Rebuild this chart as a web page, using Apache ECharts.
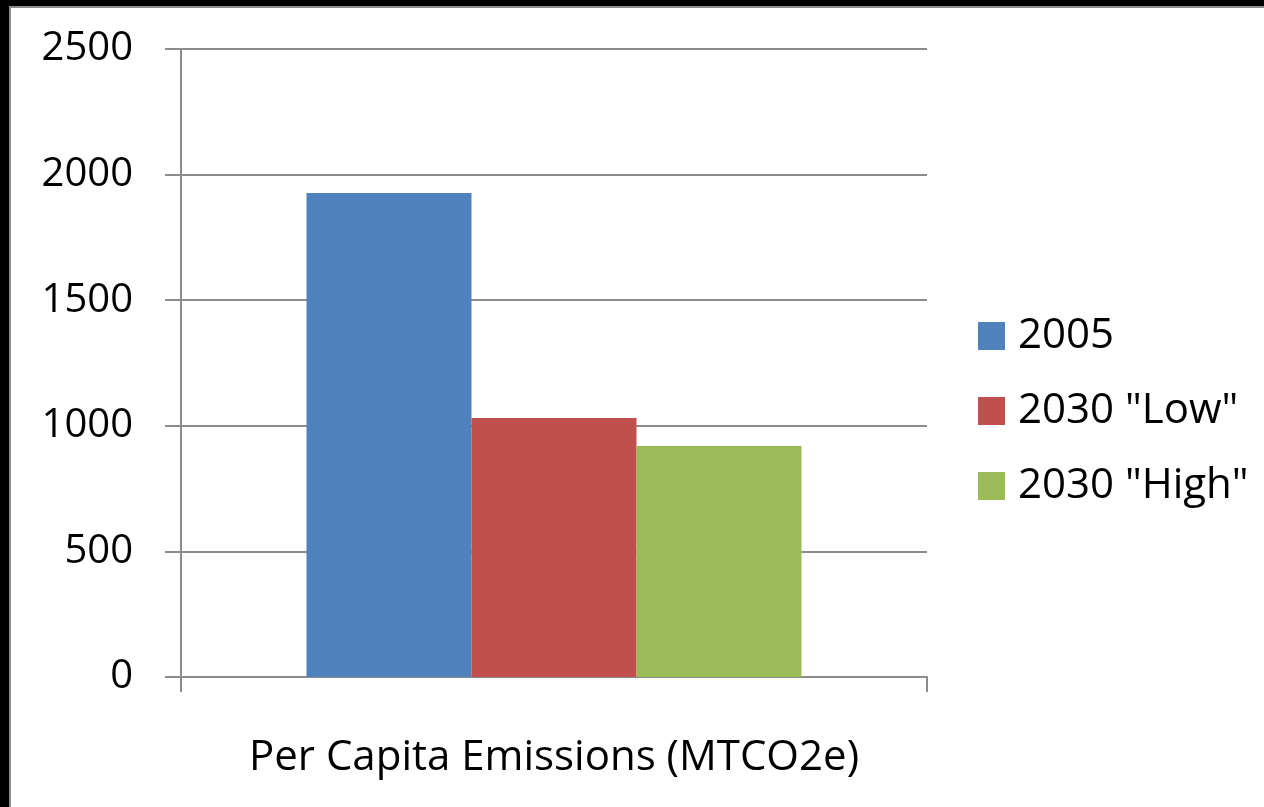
<!DOCTYPE html>
<html>
<head>
<meta charset="utf-8">
<script src="https://cdn.jsdelivr.net/npm/echarts@6/dist/echarts.min.js"></script>
<style>
html,body{margin:0;padding:0;background:#fff;}
#chart{width:1264px;height:807px;}
</style>
</head>
<body>
<div id="chart"></div>
<script>
const categories = ['Per Capita Emissions (MTCO2e)'];
const seriesNames = ['2005', '2030 "Low"', '2030 "High"'];
const values2005 = [1927];
const valuesLow = [1031];
const valuesHigh = [920];
const yTicks = [0, 500, 1000, 1500, 2000, 2500];
const colors = ['#4F81BD', '#C0504D', '#9BBB59'];

const chart = echarts.init(document.getElementById('chart'));
const font = '"Open Sans", Lato, sans-serif';
const allValues = [values2005, valuesLow, valuesHigh];
chart.setOption({
  animation: false,
  backgroundColor: '#fff',
  graphic: [
    {type: 'rect', shape: {x: 0, y: 0, width: 9, height: 807}, style: {fill: '#000'}},
    {type: 'rect', shape: {x: 0, y: 0, width: 1264, height: 6}, style: {fill: '#000'}},
    {type: 'rect', shape: {x: 9, y: 6, width: 2, height: 801}, style: {fill: '#8c8c8c'}},
    {type: 'rect', shape: {x: 9, y: 6, width: 1255, height: 2}, style: {fill: '#8c8c8c'}}
  ],
  grid: {left: 181, right: 337, top: 49, bottom: 130, containLabel: false},
  legend: {
    orient: 'vertical',
    left: 973,
    top: 310,
    itemWidth: 27,
    itemHeight: 28,
    itemGap: 33,
    icon: 'rect',
    textStyle: {fontFamily: font, fontSize: 42, color: '#000', lineHeight: 28, padding: [0, 0, 0, 8]},
    data: seriesNames
  },
  xAxis: {
    type: 'category',
    data: categories,
    axisLine: {lineStyle: {color: '#8c8c8c', width: 2}},
    axisTick: {show: true, length: 15, lineStyle: {color: '#8c8c8c', width: 2}},
    axisLabel: {fontFamily: font, fontSize: 42, color: '#000', margin: 60}
  },
  yAxis: {
    type: 'value',
    min: yTicks[0],
    max: yTicks[yTicks.length - 1],
    interval: yTicks[1] - yTicks[0],
    axisLine: {show: true, lineStyle: {color: '#8c8c8c', width: 2}},
    axisTick: {show: true, length: 16, lineStyle: {color: '#8c8c8c', width: 2}},
    axisLabel: {fontFamily: font, fontSize: 40, color: '#000', margin: 48, formatter: v => String(v)},
    splitLine: {lineStyle: {color: '#8c8c8c', width: 2}}
  },
  series: seriesNames.map((name, i) => ({
    name: name,
    type: 'bar',
    data: allValues[i],
    barWidth: 165,
    barGap: '0%',
    itemStyle: {color: colors[i]}
  }))
});
</script>
</body>
</html>
